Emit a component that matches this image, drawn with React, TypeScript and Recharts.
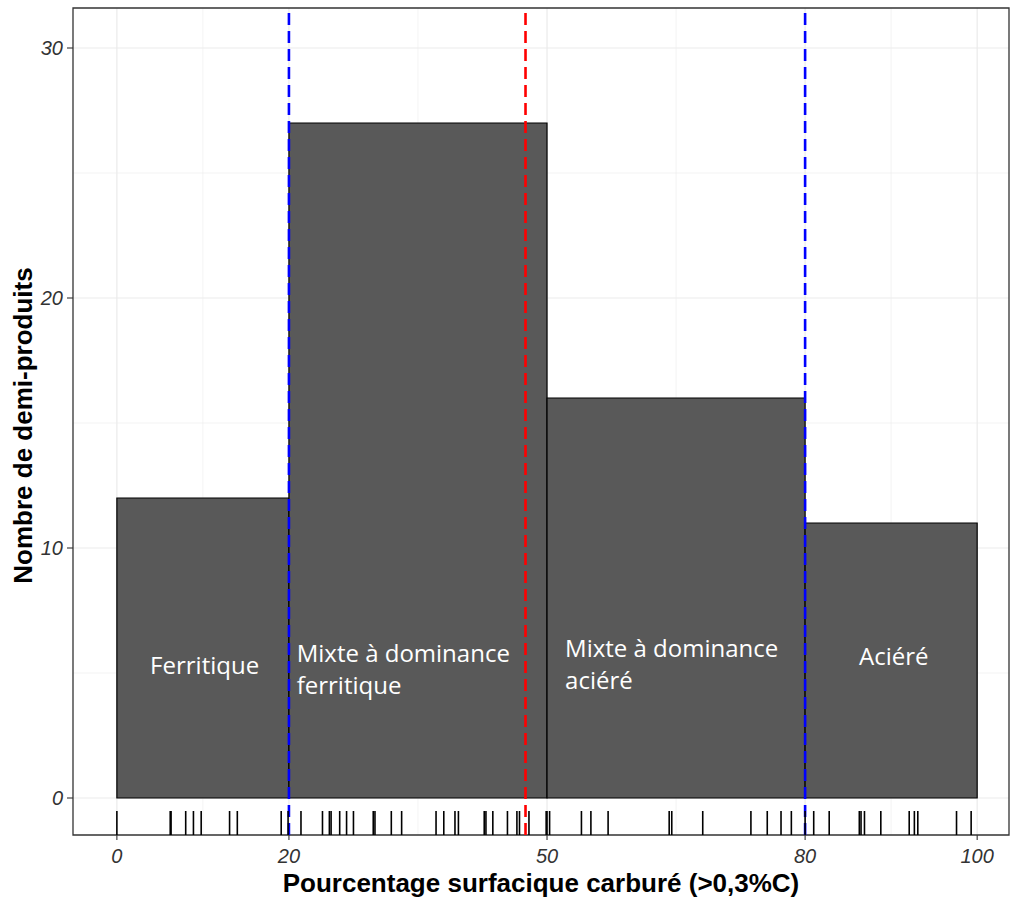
import {
  ComposedChart,
  XAxis,
  YAxis,
  Scatter,
  CartesianGrid,
  ReferenceArea,
  ReferenceLine,
  ReferenceDot,
} from "recharts";

// histogram bins (percent) and counts per bin
const binEdges = [0, 20, 50, 80, 100];
const binCounts = [12, 27, 16, 11];

// individual observations shown as the rug under the bars
const rugValues = [
  0, 6.2, 6.3, 8.0, 8.9, 9.8, 13.1, 14.0, 19.1, 19.9,
  21.4, 23.9, 24.7, 24.9, 25.9, 26.7, 27.5, 29.8, 30.0, 31.9, 33.1, 37.1, 38.0,
  39.3, 39.7, 42.7, 42.9, 43.7, 45.4, 46.5, 46.8, 47.9, 49.9, 50.0,
  50.3, 54.0, 55.1, 57.1, 64.2, 64.5, 68.1, 73.7, 75.6, 77.2, 78.4, 80.0,
  81.0, 82.8, 86.3, 86.5, 86.9, 88.8, 92.1, 92.7, 93.1, 97.6, 99.3,
];

const classLabels = [
  ["Ferritique"],
  ["Mixte à dominance", "ferritique"],
  ["Mixte à dominance", "aciéré"],
  ["Aciéré"],
];

const classThresholds = [20, 80];
const meanValue = 47.5;

const xTicks = [0, 20, 50, 80, 100];
const yTicks = [0, 10, 20, 30];
const xMinorGrid = [10, 35, 65, 90];
const yMinorGrid = [5, 15, 25];

// label placement (layout only)
const labelPlacement = [
  { x: 10.2, y: 5.3, anchor: "middle" },
  { x: 20.9, y: 5.16, anchor: "start" },
  { x: 52.1, y: 5.34, anchor: "start" },
  { x: 90.3, y: 5.68, anchor: "middle" },
];

const xDomain: [number, number] = [-5.1, 103.7];
const yDomain: [number, number] = [-1.48, 31.6];
const rugY = -1.0;

const rugData = rugValues.map((v) => ({ x: v, y: rugY }));

const gridColor = "#EBEBEB";
const tickStyle = {
  fontFamily: "Liberation Sans, Arial, sans-serif",
  fontStyle: "italic",
  fontSize: 20,
  fill: "#333333",
};
const titleStyle = {
  fontFamily: "Liberation Sans, Arial, sans-serif",
  fontWeight: 700,
  fontSize: 26,
  fill: "#000000",
};

function RugTick(props: any) {
  const { cx, cy } = props;
  return (
    <line
      x1={cx}
      x2={cx}
      y1={cy - 12}
      y2={cy + 12}
      stroke="#000"
      strokeWidth={1.6}
    />
  );
}

function ClassText({ cx, cy, lines, anchor }: any) {
  const lh = 32;
  const cap = 17;
  const first = cy - ((lines.length - 1) * lh + cap) / 2 + cap;
  return (
    <text
      x={cx}
      y={first}
      textAnchor={anchor}
      fill="#FFFFFF"
      style={{ fontFamily: "Open Sans, sans-serif", fontSize: 24 }}
    >
      {lines.map((l: string, i: number) => (
        <tspan key={i} x={cx} y={first + i * lh}>
          {l}
        </tspan>
      ))}
    </text>
  );
}

function YTitle(props: any) {
  const { viewBox } = props;
  const cy = viewBox.y + viewBox.height / 2 + 4;
  const cx = 32;
  return (
    <text
      x={cx}
      y={cy}
      textAnchor="middle"
      transform={`rotate(-90, ${cx}, ${cy})`}
      style={titleStyle}
    >
      Nombre de demi-produits
    </text>
  );
}

export default function App() {
  return (
    <div style={{ position: "absolute", left: 0, top: 0, background: "#fff" }}>
      <ComposedChart
        width={1011}
        height={899}
        margin={{ top: 8, right: 2, bottom: 0, left: 0 }}
      >
        <CartesianGrid
          stroke={gridColor}
          strokeWidth={0.6}
          verticalValues={xMinorGrid}
          horizontalValues={yMinorGrid}
        />
        <CartesianGrid
          stroke={gridColor}
          strokeWidth={1.2}
          verticalValues={xTicks}
          horizontalValues={yTicks}
        />
        <XAxis
          type="number"
          dataKey="x"
          domain={xDomain}
          ticks={xTicks}
          allowDataOverflow
          axisLine={false}
          tickLine={{ stroke: "#333", strokeWidth: 1.1 }}
          tickSize={5}
          tickMargin={9}
          tick={tickStyle}
          height={64}
          label={{
            value: "Pourcentage surfacique carburé (>0,3%C)",
            position: "insideBottom",
            offset: 7,
            style: titleStyle,
          }}
        />
        <YAxis
          type="number"
          dataKey="y"
          domain={yDomain}
          ticks={yTicks}
          allowDataOverflow
          axisLine={false}
          tickLine={{ stroke: "#333", strokeWidth: 1.1 }}
          tickSize={6}
          tickMargin={4}
          tick={tickStyle}
          width={73}
          label={<YTitle />}
        />

        {binCounts.map((c, i) => (
          <ReferenceArea
            key={"bin" + i}
            x1={binEdges[i]}
            x2={binEdges[i + 1]}
            y1={0}
            y2={c}
            fill="#595959"
            fillOpacity={1}
            stroke="#000"
            strokeWidth={1.2}
          />
        ))}

        {classLabels.map((lines, i) => (
          <ReferenceDot
            key={"lab" + i}
            x={labelPlacement[i].x}
            y={labelPlacement[i].y}
            r={0}
            shape={(p: any) => (
              <ClassText
                cx={p.cx}
                cy={p.cy}
                lines={lines}
                anchor={labelPlacement[i].anchor}
              />
            )}
          />
        ))}

        <Scatter
          data={rugData}
          dataKey="y"
          isAnimationActive={false}
          shape={<RugTick />}
        />

        {classThresholds.map((v) => (
          <ReferenceLine
            key={"th" + v}
            x={v}
            stroke="#0000FF"
            strokeWidth={2.6}
            strokeDasharray="12 6"
          />
        ))}
        <ReferenceLine
          x={meanValue}
          stroke="#FF0000"
          strokeWidth={2.6}
          strokeDasharray="12 6"
        />

        <ReferenceArea
          x1={xDomain[0]}
          x2={xDomain[1]}
          y1={yDomain[0]}
          y2={yDomain[1]}
          fill="none"
          stroke="#333333"
          strokeWidth={1.3}
        />
      </ComposedChart>
    </div>
  );
}
